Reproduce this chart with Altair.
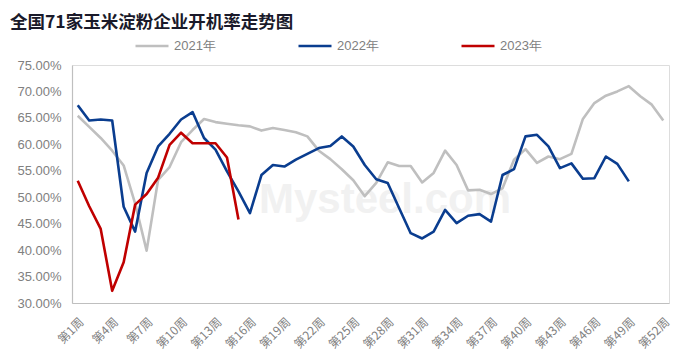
import altair as alt
import pandas as pd

title_text = "全国71家玉米淀粉企业开机率走势图"
series_names = ["2021年", "2022年", "2023年"]
series_colors = ["#BFBFBF", "#0A3D8F", "#C00000"]
weeks = [f"第{i}周" for i in range(1, 53)]
tick_weeks = weeks[::3]
y_ticks = [30, 35, 40, 45, 50, 55, 60, 65, 70, 75]

v2021 = [65.4, 63.3, 61.2, 58.8, 56.0, 48.8, 39.9, 53.3, 55.7, 60.4,
         62.7, 64.8, 64.2, 63.9, 63.6, 63.4, 62.6, 63.1, 62.7, 62.3,
         61.5, 58.8, 57.2, 55.3, 53.2, 50.2, 52.7, 56.6, 55.9, 55.9,
         52.8, 54.6, 58.8, 56.1, 51.3, 51.4, 50.6, 51.7, 57.1, 59.1,
         56.5, 57.7, 57.2, 58.2, 64.8, 67.8, 69.2, 70.0, 71.0, 69.1,
         67.5, 64.5]
v2022 = [67.4, 64.5, 64.7, 64.5, 48.2, 43.5, 54.6, 59.6, 62.0, 64.7,
         66.1, 61.2, 59.0, 54.9, 51.1, 47.0, 54.2, 56.1, 55.8, 57.1,
         58.2, 59.3, 59.7, 61.5, 59.6, 56.1, 53.4, 52.7, 47.9, 43.2,
         42.2, 43.5, 47.6, 45.1, 46.5, 46.8, 45.4, 54.2, 55.3, 61.5,
         61.8, 59.6, 55.5, 56.4, 53.5, 53.6, 57.7, 56.3, 53.0]
v2023 = [53.1, 48.3, 44.0, 32.3, 37.7, 48.6, 50.6, 53.7, 59.9, 62.2,
         60.2, 60.2, 60.2, 57.5, 45.8]

rows = []
for name, vals in zip(series_names, [v2021, v2022, v2023]):
    for i, v in enumerate(vals):
        rows.append({"week": weeks[i], "series": name, "value": v, "idx": i})
df = pd.DataFrame(rows)

label_color = "#808080"
axis_color = "#BFBFBF"

lines = alt.Chart(df).mark_line(strokeWidth=2.6, strokeJoin="round").encode(
    x=alt.X("week:N", sort=weeks,
            scale=alt.Scale(type="point", domain=weeks, padding=0.5),
            axis=alt.Axis(values=tick_weeks, labelAngle=-45, labelAlign="right",
                          labelBaseline="top", labelPadding=13, ticks=False,
                          tickSize=0, domainColor=axis_color, domainWidth=1.2,
                          grid=False, title=None, labelFontSize=12,
                          labelColor=label_color, labelFont="Noto Sans CJK SC",
                          labelOverlap=False, labelBound=False, labelFlush=False)),
    y=alt.Y("value:Q",
            scale=alt.Scale(domain=[30, 75], nice=False, zero=False),
            axis=alt.Axis(values=y_ticks, labelExpr="format(datum.value, '.2f') + '%'",
                          ticks=False, tickSize=0, grid=False, domainColor=axis_color,
                          domainWidth=1.2, title=None, labelFontSize=13,
                          labelColor=label_color, labelFont="Liberation Sans",
                          labelPadding=11)),
    color=alt.Color("series:N",
                    scale=alt.Scale(domain=series_names, range=series_colors),
                    legend=alt.Legend(orient="none", legendX=62, legendY=-37,
                                      direction="horizontal", title=None,
                                      symbolType="stroke", symbolSize=1089,
                                      symbolStrokeWidth=2.6, labelFontSize=13,
                                      labelColor=label_color,
                                      labelFont="Liberation Sans",
                                      labelOffset=4, columnPadding=77)),
    order=alt.Order("idx:Q"),
)

title = alt.Chart(pd.DataFrame({"t": [title_text]})).mark_text(
    align="left", baseline="middle", fontSize=17.5, fontWeight="bold",
    font="Noto Sans CJK SC", color="#1a1a2a"
).encode(x=alt.value(-62), y=alt.value(-42), text="t:N")

watermark = alt.Chart(pd.DataFrame({"t": ["Mysteel.com"]})).mark_text(
    align="center", baseline="middle", fontSize=42, fontWeight="bold",
    font="Liberation Sans", color="#F1F1F1"
).encode(x=alt.value(313), y=alt.value(135), text="t:N")

chart = alt.layer(watermark, lines, title).properties(
    width=597, height=238,
    autosize=alt.AutoSizeParams(type="none"),
    padding={"left": 64, "top": 57, "right": 9, "bottom": 50},
).configure_view(stroke=None).configure(background="white")

chart.save("out.html", embed_options={"renderer": "svg", "actions": False})
